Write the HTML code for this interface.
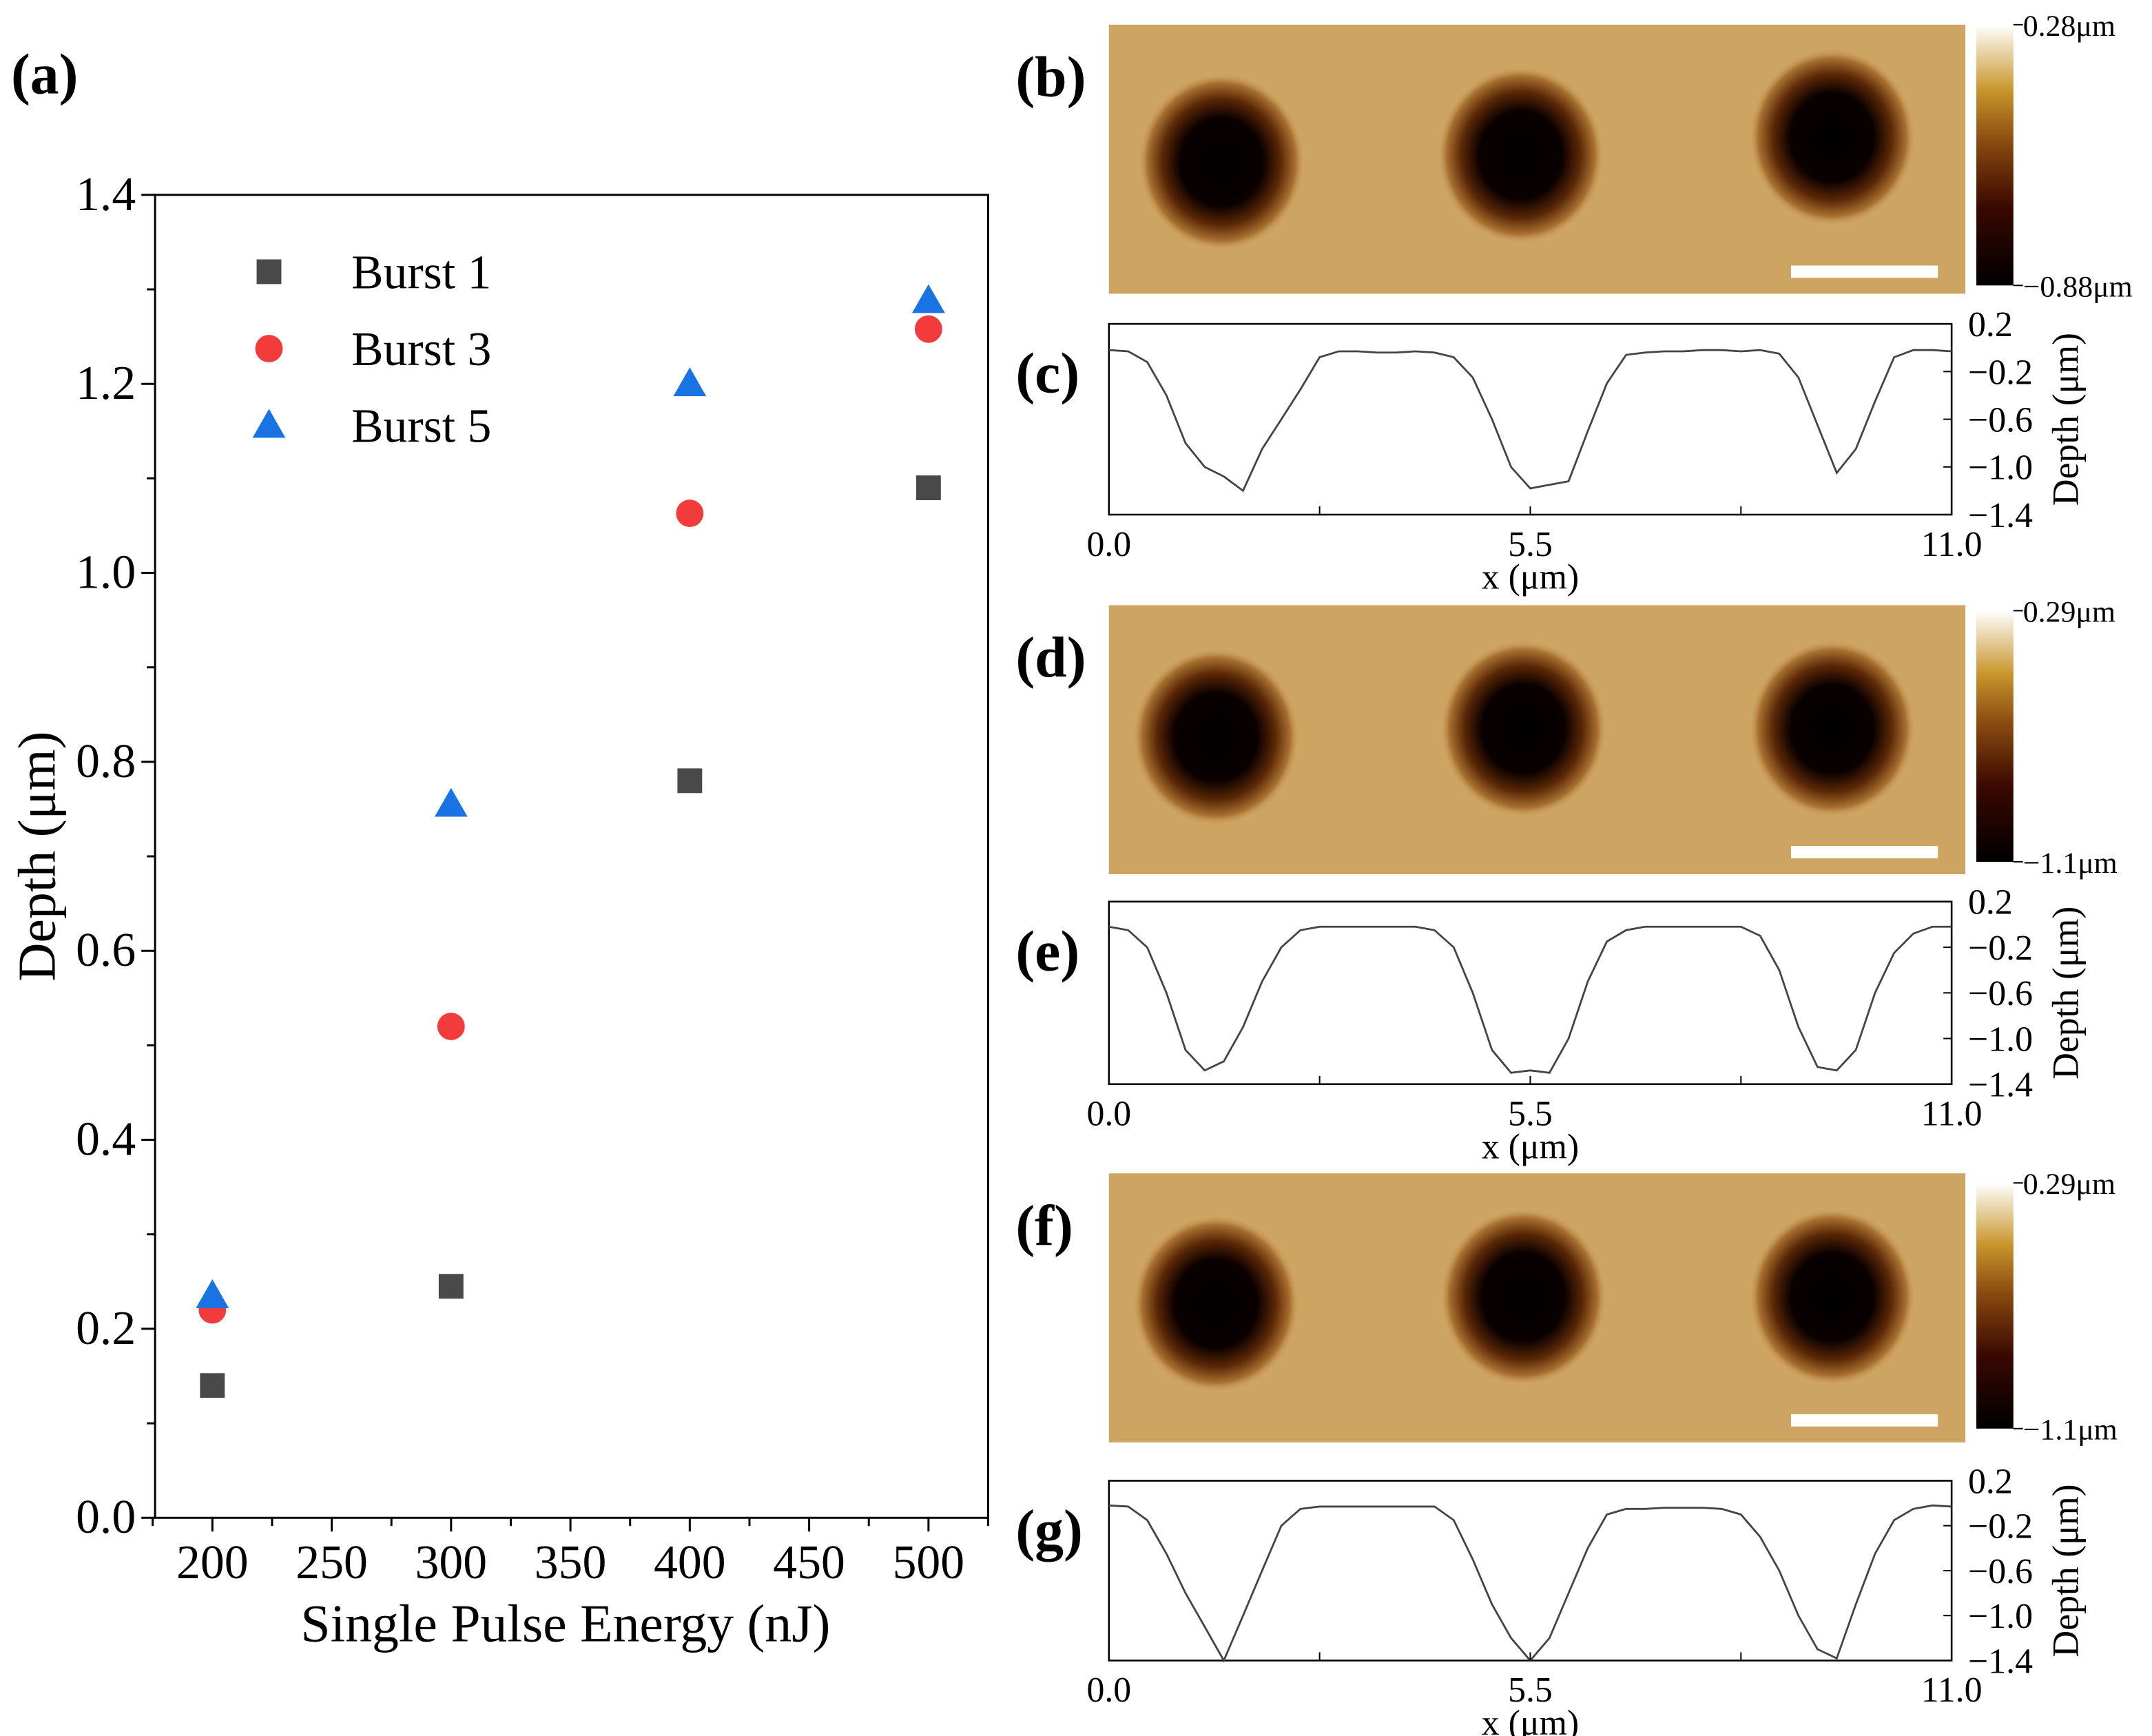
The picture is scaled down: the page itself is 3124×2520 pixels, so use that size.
<!DOCTYPE html>
<html><head><meta charset="utf-8">
<style>
html,body{margin:0;padding:0;background:#fff;}
svg{display:block;font-family:"Liberation Serif",serif;}
</style></head>
<body>
<svg id="fig" xmlns="http://www.w3.org/2000/svg" width="3124" height="2520" viewBox="0 0 1568 1265" preserveAspectRatio="none">
<defs>
<radialGradient id="hole" cx="50%" cy="50%" r="50%">
<stop offset="0" stop-color="#000"/><stop offset="0.5" stop-color="#0a0000"/><stop offset="0.72" stop-color="#5b2806"/><stop offset="0.9" stop-color="#a87030"/><stop offset="1" stop-color="#c99a58" stop-opacity="0"/>
</radialGradient>
<linearGradient id="cbar" x1="0" y1="1" x2="0" y2="0">
<stop offset="0" stop-color="#000"/><stop offset="0.3" stop-color="#3a0800"/><stop offset="0.55" stop-color="#8a4a10"/><stop offset="0.75" stop-color="#c8962c"/><stop offset="1" stop-color="#fff"/>
</linearGradient>
</defs>
<g id="main"></g>
<g id="right"></g>
</svg>
<script>
// ---- main scatter data ----
const energies = [200, 300, 400, 500];
const burst1 = [0.14, 0.245, 0.78, 1.09];
const burst3 = [0.22, 0.52, 1.063, 1.258];
const burst5 = [0.235, 0.755, 1.2, 1.288];
const xTicks = [200, 250, 300, 350, 400, 450, 500];
const yTicks = [0.0, 0.2, 0.4, 0.6, 0.8, 1.0, 1.2, 1.4];
// ---- profile data (x step 0.25 µm from 0 to 11) ----
const profileC = [-0.02,-0.03,-0.12,-0.4,-0.8,-1.0,-1.08,-1.2,-0.85,-0.6,-0.35,-0.08,-0.03,-0.03,-0.04,-0.04,-0.03,-0.04,-0.08,-0.25,-0.6,-1.0,-1.18,-1.15,-1.12,-0.7,-0.3,-0.06,-0.04,-0.03,-0.03,-0.02,-0.02,-0.03,-0.02,-0.05,-0.25,-0.65,-1.05,-0.85,-0.45,-0.08,-0.02,-0.02,-0.03];
const profileE = [-0.02,-0.05,-0.2,-0.6,-1.1,-1.28,-1.2,-0.9,-0.5,-0.2,-0.05,-0.02,-0.02,-0.02,-0.02,-0.02,-0.02,-0.05,-0.2,-0.6,-1.1,-1.3,-1.28,-1.3,-1.0,-0.5,-0.15,-0.05,-0.02,-0.02,-0.02,-0.02,-0.02,-0.02,-0.1,-0.4,-0.9,-1.25,-1.28,-1.1,-0.6,-0.25,-0.08,-0.02,-0.02];
const profileG = [-0.02,-0.03,-0.15,-0.45,-0.8,-1.1,-1.4,-1.0,-0.6,-0.2,-0.05,-0.03,-0.03,-0.03,-0.03,-0.03,-0.03,-0.03,-0.15,-0.5,-0.9,-1.2,-1.4,-1.2,-0.8,-0.4,-0.1,-0.05,-0.05,-0.04,-0.04,-0.04,-0.05,-0.1,-0.3,-0.6,-1.0,-1.3,-1.38,-0.9,-0.45,-0.15,-0.05,-0.02,-0.03];
const profTicks = [0.2, -0.2, -0.6, -1.0, -1.4];
const profXTicks = [0.0, 5.5, 11.0];

const NS = "http://www.w3.org/2000/svg";
function mk(tag, attrs, parent, text){
  const e = document.createElementNS(NS, tag);
  for (const k in attrs) e.setAttribute(k, attrs[k]);
  if (text !== undefined) e.textContent = text;
  parent.appendChild(e); return e;
}
const main = document.getElementById('main');
const L=113,R=720,T=142,B=1106;
const xs = v => L + (v-176)/(525-176)*(R-L);
const ys = v => B - v/1.4*(B-T);

let t = mk('text',{x:8,y:68,'font-size':42,'font-weight':'bold'},main,'(a)');


let fr = mk('rect',{x:L,y:T,width:R-L,height:B-T,fill:'none',stroke:'#000','stroke-width':1.5},main);


for (let v=175; v<=525; v+=25){
  const major = v%50===0;
  mk('line',{x1:xs(v),x2:xs(v),y1:B,y2:B+(major?10:6),stroke:'#000','stroke-width':1.5},main);
}
xTicks.forEach(v=>{
  const e = mk('text',{x:xs(v),y:B+44,'font-size':35,'text-anchor':'middle'},main,String(v));
  
  
});
for (let i=0;i<=14;i++){
  const v=i*0.1, major=i%2===0;
  mk('line',{x1:L,x2:L-(major?10:6),y1:ys(v),y2:ys(v),stroke:'#000','stroke-width':1.5},main);
}
yTicks.forEach(v=>{
  const e = mk('text',{x:L-14,y:ys(v)+11,'font-size':35,'text-anchor':'end'},main,v.toFixed(1));
  
  
});
t = mk('text',{x:412,y:1196,'font-size':39,'text-anchor':'middle'},main,'Single Pulse Energy (nJ)');


t = mk('text',{x:0,y:0,'font-size':39,'text-anchor':'middle',transform:'translate(40,624) rotate(-90)'},main,'Depth (μm)');



function square(cx,cy,c){return mk('rect',{x:cx-9,y:cy-9,width:18,height:18,fill:c},main);}
function circle(cx,cy,c){return mk('circle',{cx:cx,cy:cy,r:10,fill:c},main);}
function tri(cx,cy,c){return mk('polygon',{points:`${cx},${cy-12} ${cx+12},${cy+9} ${cx-12},${cy+9}`,fill:c},main);}
energies.forEach((e,i)=>{
  let m = square(xs(e),ys(burst1[i]),'#494949');
  
  
  m = circle(xs(e),ys(burst3[i]),'#f23c3c');
  
  
  m = tri(xs(e),ys(burst5[i]),'#1a73e3');
  
  
});
const leg = [['Burst 1',square,'#494949',198],['Burst 3',circle,'#f23c3c',254],['Burst 5',tri,'#1a73e3',310]];
leg.forEach(l=>{
  const m = l[1](196,l[3],l[2]);
  
  
  const e = mk('text',{x:256,y:l[3]+12,'font-size':35},main,l[0]);
  
  
});

// ---- right panels ----
const right = document.getElementById('right');
function afm(label, y0, cbY0, cbY1, top, bot, holes, lbl){
  const g = mk('g',{},right);
  
  
  mk('rect',{x:808,y:y0,width:624,height:196,fill:'#c99d58'},g);
  mk('rect',{x:808,y:y0,width:624,height:196,fill:'#e2c48e',opacity:0.2},g);
  holes.forEach(h=>mk('ellipse',{cx:h[0],cy:y0+h[1],rx:60,ry:64,fill:'url(#hole)'},g));
  mk('line',{x1:1305,x2:1412,y1:y0+180,y2:y0+180,stroke:'#fff','stroke-width':9},g);
  const pl = mk('text',{x:740,y:y0+52,'font-size':42,'font-weight':'bold'},right,label);
  
  
  const cb = mk('rect',{x:1440,y:cbY0,width:27,height:cbY1-cbY0,fill:'url(#cbar)'},right);
  
  
  mk('line',{x1:1467,x2:1474,y1:cbY0,y2:cbY0,stroke:'#000'},right);
  mk('line',{x1:1467,x2:1474,y1:cbY1,y2:cbY1,stroke:'#000'},right);
  let e = mk('text',{x:1474,y:cbY0+8,'font-size':22},right,top);
  
  
  e = mk('text',{x:1474,y:cbY1+8,'font-size':22},right,bot);
  
  
}
function profile(label, data, y0, y1, lbl){
  const g = mk('g',{},right);
  
  
  const px = v => 808 + v/11*(1422-808);
  const py = v => y0 + (0.2 - v)/1.6*(y1-y0);
  mk('rect',{x:808,y:y0,width:614,height:y1-y0,fill:'none',stroke:'#000','stroke-width':1.3},g);
  let d='';
  data.forEach((v,i)=>{d += (i?'L':'M')+px(i*0.25).toFixed(1)+','+py(v).toFixed(1);});
  const ln = mk('path',{d:d,fill:'none',stroke:'#444','stroke-width':1.4},g);
  
  
  for (let v=0; v<=11; v+=2.75) mk('line',{x1:px(v),x2:px(v),y1:y1,y2:y1-6,stroke:'#000'},g);
  profTicks.forEach(v=>{
    mk('line',{x1:1422,x2:1416,y1:py(v),y2:py(v),stroke:'#000'},g);
    const e = mk('text',{x:1434,y:py(v)+9,'font-size':26},g,v===0.2?'0.2':v.toFixed(1).replace('-','−'));
    
    
  });
  profXTicks.forEach(v=>{
    const e = mk('text',{x:px(v),y:y1+30,'font-size':26,'text-anchor':'middle'},g,v.toFixed(1));
    
    
  });
  let e = mk('text',{x:1115,y:y1+54,'font-size':26,'text-anchor':'middle'},g,'x (μm)');
  
  
  e = mk('text',{x:0,y:0,'font-size':27,'text-anchor':'middle',transform:`translate(1514,${(y0+y1)/2}) rotate(-90)`},g,'Depth (μm)');
  
  
  e = mk('text',{x:740,y:y0+50,'font-size':42,'font-weight':'bold'},right,label);
  
  
}
afm('(b)',18,18,208,'0.28μm','−0.88μm',[[890,100],[1108,95],[1335,82]],'b');
profile('(c)',profileC,236,375,'c');
afm('(d)',441,445,628,'0.29μm','−1.1μm',[[886,96],[1110,90],[1335,90]],'d');
profile('(e)',profileE,657,790,'e');
afm('(f)',855,862,1041,'0.29μm','−1.1μm',[[886,95],[1110,90],[1335,90]],'f');
profile('(g)',profileG,1079,1210,'g');
</script>
</body></html>
